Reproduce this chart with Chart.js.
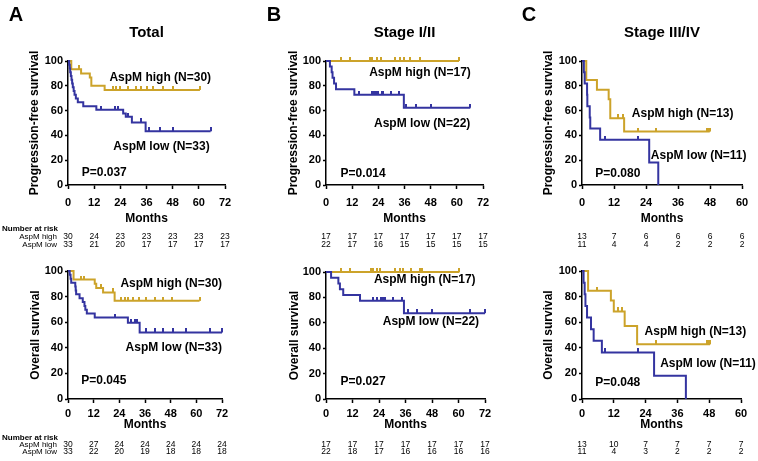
<!DOCTYPE html>
<html>
<head>
<meta charset="utf-8">
<script src="https://cdn.jsdelivr.net/npm/chart.js@4.4.1/dist/chart.umd.min.js"></script>
<style>
  body { margin: 0; background: #fff; width: 758px; height: 461px; overflow: hidden; position: relative; }
  canvas { position: absolute; }
</style>
</head>
<body>
<canvas id="pfsA" width="250" height="250" style="left:0;top:0"></canvas>
<canvas id="pfsB" width="255" height="250" style="left:250px;top:0"></canvas>
<canvas id="pfsC" width="253" height="250" style="left:505px;top:0"></canvas>
<canvas id="osA" width="250" height="211" style="left:0;top:250px"></canvas>
<canvas id="osB" width="255" height="211" style="left:250px;top:250px"></canvas>
<canvas id="osC" width="253" height="211" style="left:505px;top:250px"></canvas>
<script>
// tick labels
const monthTicks72 = [0, 12, 24, 36, 48, 60, 72];
const monthTicks60 = [0, 12, 24, 36, 48, 60];
const survTicks = [0, 20, 40, 60, 80, 100];

// Kaplan-Meier curves: [month, survival %] at each step
const pfsHighA = [[0, 100], [1.5, 93.3], [6, 90], [10, 86.7], [10.7, 80], [16.8, 76.7], [60.5, 76.7]];
const pfsLowA = [[0, 100], [0.5, 97], [0.8, 93.9], [1, 90.9], [1.3, 87.9], [1.6, 84.8], [1.9, 81.8], [2.2, 78.8], [2.6, 75.8], [3, 72.7], [3.6, 69.7], [4.5, 66.7], [7, 63.6], [13, 60.6], [25.3, 57.6], [26.5, 55], [29.3, 50.5], [35.6, 43.3], [65.4, 43.3]];
const osHighA = [[0, 100], [2.6, 93.3], [12.5, 90], [13.2, 86.7], [16.4, 83.3], [21.8, 76.7], [61.5, 76.7]];
const osLowA = [[0, 100], [0.8, 97], [1.2, 93.9], [1.5, 90.9], [3.4, 87.9], [3.6, 84.8], [3.8, 81.8], [5.4, 78.8], [6.9, 75.8], [7.7, 72.7], [8.1, 69.7], [8.8, 66.7], [12.5, 63.6], [28, 59.5], [33.5, 52], [72, 52]];

const pfsHighB = [[0, 100], [61, 100]];
const pfsLowB = [[0, 100], [1.8, 95.5], [2.6, 90.9], [3, 86.4], [3.7, 81.8], [4.6, 77.3], [13, 72.7], [35.7, 62.3], [66.2, 62.3]];
const osHighB = [[0, 100], [60.4, 100]];
const osLowB = [[0, 100], [2.3, 95.5], [5.6, 90.9], [6.3, 86.4], [7.8, 81.8], [15.4, 77.3], [35.3, 67.6], [72, 67.6]];

const pfsHighC = [[0, 100], [1.6, 84.6], [5.6, 76.9], [10, 69.2], [10.6, 53.8], [15.8, 43.1], [47.9, 43.1]];
const pfsLowC = [[0, 100], [0.7, 90.9], [1, 81.8], [1.9, 72.7], [2, 63.6], [2.9, 54.5], [3.1, 45.5], [6.8, 36.4], [25.2, 18.2], [28.6, 0]];
const osHighC = [[0, 100], [2.3, 84.6], [10.9, 76.9], [12, 68.4], [16.1, 57], [20.8, 42.7], [48.3, 42.7]];
const osLowC = [[0, 100], [0.6, 90.9], [1, 81.8], [1.3, 72.7], [1.9, 63.6], [3.4, 54.5], [4.4, 45.5], [7.5, 36.4], [27.2, 18.2], [39.2, 0]];

// censored times (months)
const pfsHighCensA = [5, 20.7, 22.2, 24, 27.6, 31.4, 33.7, 36, 39, 43.6, 48.2, 60.5];
const pfsLowCensA = [15.3, 21.4, 23, 27.3, 33.7, 37, 42, 48.2, 65.4];
const osHighCensA = [6.2, 7.3, 15.6, 21, 25, 26.5, 28, 30.4, 33, 36.6, 40.5, 44.4, 48.8, 61.5];
const osLowCensA = [21.8, 29.6, 31.2, 32.4, 36.6, 40.5, 44.4, 49, 55, 66.2, 72];
const pfsHighCensB = [6.7, 11, 20.4, 21.3, 23.2, 25, 31.5, 33.8, 35.7, 38.7, 43.3, 61];
const pfsLowCensB = [15.2, 20.9, 22, 22.9, 23.9, 25.5, 26.2, 30, 33.5, 36.9, 41.5, 48.3, 66.2];
const osHighCensB = [6.6, 10.9, 20.2, 21.1, 22.9, 24.5, 31.2, 33.4, 35, 38.3, 42.6, 43.3, 60.4];
const osLowCensB = [21.1, 22.9, 24.8, 25.7, 26.7, 30.5, 34.3, 37.3, 41.4, 47.8, 65.2, 72];
const pfsHighCensC = [13.6, 15.2, 20.9, 27.8, 46.7, 47.6, 47.9];
const pfsLowCensC = [8.5, 20.9];
const osHighCensC = [5.6, 13.5, 15.2, 28, 47, 47.8, 48.3];
const osLowCensC = [8.8, 21];

// number at risk
const pfsRiskHighA = [30, 24, 23, 23, 23, 23, 23];
const pfsRiskLowA = [33, 21, 20, 17, 17, 17, 17];
const osRiskHighA = [30, 27, 24, 24, 24, 24, 24];
const osRiskLowA = [33, 22, 20, 19, 18, 18, 18];
const pfsRiskHighB = [17, 17, 17, 17, 17, 17, 17];
const pfsRiskLowB = [22, 17, 16, 15, 15, 15, 15];
const osRiskHighB = [17, 17, 17, 17, 17, 17, 17];
const osRiskLowB = [22, 18, 17, 16, 16, 16, 16];
const pfsRiskHighC = [13, 7, 6, 6, 6, 6];
const pfsRiskLowC = [11, 4, 4, 2, 2, 2];
const osRiskHighC = [13, 10, 7, 7, 7, 7];
const osRiskLowC = [11, 4, 3, 2, 2, 2];

const FONT = '"Liberation Sans", Arial, Helvetica, sans-serif';
const GOLD = "rgb(204, 163, 42)";
const BLUE = "rgb(52, 52, 160)";

Chart.defaults.font.family = FONT;

function survAt(curve, t) {
  let v = curve[0][1];
  curve.forEach(function (p) { if (p[0] <= t) v = p[1]; });
  return v;
}

function tickMark(color) {
  const c = document.createElement("canvas");
  c.width = 2;
  c.height = 8;
  const g = c.getContext("2d");
  g.fillStyle = color;
  g.fillRect(0, 0, 2, 4);
  return c;
}

function kmText(p) {
  return {
    id: "kmText",
    afterDraw(chart) {
      const ctx = chart.ctx;
      const a = chart.chartArea;
      const xs = chart.scales.x;
      const ys = chart.scales.y;
      ctx.save();
      ctx.fillStyle = "#000";
      ctx.textBaseline = "middle";
      if (p.letter) {
        ctx.font = "bold 20px " + FONT;
        ctx.textAlign = "center";
        ctx.fillText(p.letter, p.letterX, 15);
      }
      if (p.title) {
        ctx.font = "bold 15px " + FONT;
        ctx.textAlign = "center";
        ctx.fillText(p.title, (a.left + a.right) / 2, 33);
      }
      ctx.font = "bold 12px " + FONT;
      ctx.textAlign = "left";
      p.notes.forEach(function (n) {
        ctx.fillText(n[0], xs.getPixelForValue(n[1]), ys.getPixelForValue(n[2]));
      });
      // number at risk table
      if (p.riskLabels) {
        ctx.font = "bold 8px " + FONT;
        ctx.textAlign = "left";
        ctx.fillText("Number at risk", 2, p.riskY[0]);
        ctx.font = "8px " + FONT;
        ctx.textAlign = "right";
        ctx.fillText("AspM high", 57, p.riskY[1]);
        ctx.fillText("AspM low", 57, p.riskY[2]);
      }
      ctx.font = "8.5px " + FONT;
      ctx.textAlign = "center";
      p.ticks.forEach(function (t, i) {
        const px = xs.getPixelForValue(t);
        ctx.fillText(String(p.riskHigh[i]), px, p.riskY[1]);
        ctx.fillText(String(p.riskLow[i]), px, p.riskY[2]);
      });
      ctx.restore();
    },
  };
}

function drawKM(id, p) {
  const canvas = document.getElementById(id);
  const ctx = canvas.getContext("2d");
  const toXY = function (curve) { return curve.map(function (d) { return { x: d[0], y: d[1] }; }); };
  const cens = function (curve, times) { return times.map(function (t) { return { x: t, y: survAt(curve, t) }; }); };
  const axisFont = { size: 11, weight: "bold" };
  const titleFont = { size: 12, weight: "bold" };

  new Chart(ctx, {
    type: "line",
    data: {
      datasets: [
        { data: cens(p.high, p.highCens), showLine: false, pointStyle: tickMark(GOLD), pointRadius: 3, clip: false },
        { data: cens(p.low, p.lowCens), showLine: false, pointStyle: tickMark(BLUE), pointRadius: 3, clip: false },
        { data: toXY(p.low), borderColor: BLUE, borderWidth: 2, stepped: true, pointRadius: 0, clip: false },
        { data: toXY(p.high), borderColor: GOLD, borderWidth: 2, stepped: true, pointRadius: 0, clip: false },
      ],
    },
    options: {
      responsive: false,
      animation: false,
      events: [],
      layout: {
        padding: {
          left: 0,
          top: p.area[1],
          right: canvas.width - p.area[2],
          bottom: canvas.height - p.area[3] - p.xHeight,
        },
      },
      plugins: { legend: { display: false }, tooltip: { enabled: false } },
      scales: {
        x: {
          type: "linear",
          min: 0,
          max: p.ticks[p.ticks.length - 1],
          afterBuildTicks(s) { s.ticks = p.ticks.map(function (v) { return { value: v }; }); },
          afterFit(s) { s.height = p.xHeight; },
          ticks: { font: axisFont, color: "#000", padding: p.xTickPad, maxRotation: 0, autoSkip: false },
          grid: { drawOnChartArea: false, tickLength: 4, tickColor: "#000", tickWidth: 1.5 },
          border: { color: "#000", width: 1.5 },
          title: { display: true, text: "Months", font: titleFont, color: "#000", padding: { top: 0, bottom: p.xTitlePad } },
        },
        y: {
          min: 0,
          max: 100,
          afterBuildTicks(s) { s.ticks = survTicks.map(function (v) { return { value: v }; }); },
          afterFit(s) { s.width = p.area[0]; },
          ticks: { font: axisFont, color: "#000", padding: 2 },
          grid: { drawOnChartArea: false, tickLength: 3, tickColor: "#000", tickWidth: 1.5 },
          border: { color: "#000", width: 1.5 },
          title: { display: true, text: p.yTitle, font: titleFont, color: "#000", padding: { top: p.yTitlePad, bottom: 0 } },
        },
      },
    },
    plugins: [kmText(p)],
  });
}

document.addEventListener("DOMContentLoaded", function () {
  const topRisk = [229, 237, 245];
  const botRisk = [188, 194.5, 202];

  drawKM("pfsA", {
    letter: "A", letterX: 16, title: "Total", yTitle: "Progression-free survival",
    area: [68, 61, 225, 185], xHeight: 45, xTickPad: 7, xTitlePad: 4.5, yTitlePad: 27.8,
    ticks: monthTicks72, high: pfsHighA, low: pfsLowA, highCens: pfsHighCensA, lowCens: pfsLowCensA,
    riskHigh: pfsRiskHighA, riskLow: pfsRiskLowA, riskLabels: true, riskY: topRisk,
    notes: [["AspM high (N=30)", 19, 86.5], ["AspM low (N=33)", 20.8, 30.9], ["P=0.037", 6.3, 9.7]],
  });
  drawKM("pfsB", {
    letter: "B", letterX: 24, title: "Stage I/II", yTitle: "Progression-free survival",
    area: [76, 61, 233, 185], xHeight: 45, xTickPad: 7, xTitlePad: 4.5, yTitlePad: 36.1,
    ticks: monthTicks72, high: pfsHighB, low: pfsLowB, highCens: pfsHighCensB, lowCens: pfsLowCensB,
    riskHigh: pfsRiskHighB, riskLow: pfsRiskLowB, riskLabels: false, riskY: topRisk,
    notes: [["AspM high (N=17)", 19.8, 90.6], ["AspM low (N=22)", 22, 49.2], ["P=0.014", 6.7, 9.4]],
  });
  drawKM("pfsC", {
    letter: "C", letterX: 24, title: "Stage III/IV", yTitle: "Progression-free survival",
    area: [77, 61, 237, 185], xHeight: 45, xTickPad: 7, xTitlePad: 4.5, yTitlePad: 36.1,
    ticks: monthTicks60, high: pfsHighC, low: pfsLowC, highCens: pfsHighCensC, lowCens: pfsLowCensC,
    riskHigh: pfsRiskHighC, riskLow: pfsRiskLowC, riskLabels: false, riskY: topRisk,
    notes: [["AspM high (N=13)", 18.7, 57.3], ["AspM low (N=11)", 25.8, 23.7], ["P=0.080", 5, 8.9]],
  });
  drawKM("osA", {
    yTitle: "Overall survival",
    area: [68, 21, 222, 149], xHeight: 36, xTickPad: 4, xTitlePad: 2.8, yTitlePad: 28.5,
    ticks: monthTicks72, high: osHighA, low: osLowA, highCens: osHighCensA, lowCens: osLowCensA,
    riskHigh: osRiskHighA, riskLow: osRiskLowA, riskLabels: true, riskY: botRisk,
    notes: [["AspM high (N=30)", 24.5, 90], ["AspM low (N=33)", 26.9, 40.4], ["P=0.045", 6.2, 14.5]],
  });
  drawKM("osB", {
    yTitle: "Overall survival",
    area: [76, 22, 235, 149], xHeight: 36, xTickPad: 4, xTitlePad: 2.8, yTitlePad: 37.8,
    ticks: monthTicks72, high: osHighB, low: osLowB, highCens: osHighCensB, lowCens: osLowCensB,
    riskHigh: osRiskHighB, riskLow: osRiskLowB, riskLabels: false, riskY: botRisk,
    notes: [["AspM high (N=17)", 21.7, 94], ["AspM low (N=22)", 25.7, 60.8], ["P=0.027", 6.6, 13.8]],
  });
  drawKM("osC", {
    yTitle: "Overall survival",
    area: [77, 21, 236, 149], xHeight: 36, xTickPad: 4, xTitlePad: 2.8, yTitlePad: 36.1,
    ticks: monthTicks60, high: osHighC, low: osLowC, highCens: osHighCensC, lowCens: osLowCensC,
    riskHigh: osRiskHighC, riskLow: osRiskLowC, riskLabels: false, riskY: botRisk,
    notes: [["AspM high (N=13)", 23.6, 52.6], ["AspM low (N=11)", 29.5, 27.2], ["P=0.048", 5, 13]],
  });
});
</script>
</body>
</html>
